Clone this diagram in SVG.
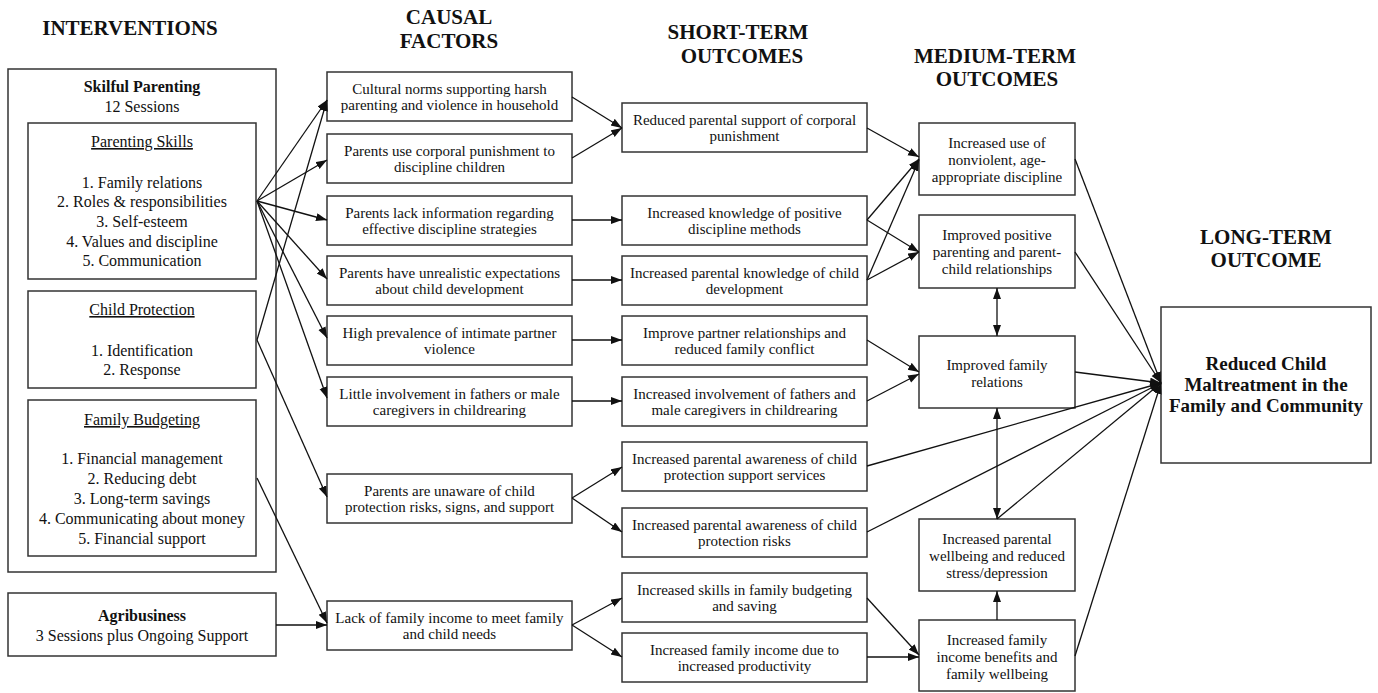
<svg xmlns="http://www.w3.org/2000/svg" width="1378" height="693" viewBox="0 0 1378 693">
<style>
.bx{fill:#fff;stroke:#333;stroke-width:1.5}
.t{font-family:"Liberation Serif","Times New Roman",serif;font-size:15px;fill:#111;text-anchor:middle}
.l{font-family:"Liberation Serif","Times New Roman",serif;font-size:16px;fill:#111;text-anchor:middle}
.b{font-weight:bold}
.u{text-decoration:underline}
.h{font-family:"Liberation Serif","Times New Roman",serif;font-size:21px;font-weight:bold;fill:#111;text-anchor:middle}
.lt{font-family:"Liberation Serif","Times New Roman",serif;font-size:19px;font-weight:bold;fill:#111;text-anchor:middle}
.c{stroke:#111;stroke-width:1.3;fill:none;marker-end:url(#ah)}
.d{marker-start:url(#ah2)}
</style>
<defs>
<marker id="ah" markerUnits="userSpaceOnUse" markerWidth="12" markerHeight="9" refX="11" refY="4" orient="auto"><path d="M0,0 L11,4 L0,8 z" fill="#111"/></marker>
<marker id="ah2" markerUnits="userSpaceOnUse" markerWidth="12" markerHeight="9" refX="11" refY="4" orient="auto-start-reverse"><path d="M0,0 L11,4 L0,8 z" fill="#111"/></marker>
</defs>
<rect width="1378" height="693" fill="#fff"/>
<g id="titles">
<text class="h" x="130" y="35">INTERVENTIONS</text>
<text class="h" x="449" y="24">CAUSAL</text>
<text class="h" x="449" y="48">FACTORS</text>
<text class="h" x="738" y="39">SHORT-TERM</text>
<text class="h" x="742" y="63">OUTCOMES</text>
<text class="h" x="995" y="63">MEDIUM-TERM</text>
<text class="h" x="997" y="86">OUTCOMES</text>
<text class="h" x="1266" y="244">LONG-TERM</text>
<text class="h" x="1266" y="267">OUTCOME</text>
</g>
<g id="skilful-parenting">
<rect class="bx" x="8" y="69" width="268" height="503"/>
<text class="l b" x="142" y="92">Skilful Parenting</text>
<text class="l" x="142" y="112">12 Sessions</text>
</g>
<g id="parenting-skills">
<rect class="bx" x="28" y="123" width="228" height="156"/>
<text class="l u" x="142" y="147">Parenting Skills</text>
<text class="l" x="142" y="188">1. Family relations</text>
<text class="l" x="142" y="207">2. Roles &amp; responsibilities</text>
<text class="l" x="142" y="227">3. Self-esteem</text>
<text class="l" x="142" y="247">4. Values and discipline</text>
<text class="l" x="142" y="266">5. Communication</text>
</g>
<g id="child-protection">
<rect class="bx" x="28" y="291" width="228" height="97"/>
<text class="l u" x="142" y="315">Child Protection</text>
<text class="l" x="142" y="356">1. Identification</text>
<text class="l" x="142" y="375">2. Response</text>
</g>
<g id="family-budgeting">
<rect class="bx" x="28" y="400" width="228" height="156"/>
<text class="l u" x="142" y="425">Family Budgeting</text>
<text class="l" x="142" y="464">1. Financial management</text>
<text class="l" x="142" y="484">2. Reducing debt</text>
<text class="l" x="142" y="504">3. Long-term savings</text>
<text class="l" x="142" y="524">4. Communicating about money</text>
<text class="l" x="142" y="544">5. Financial support</text>
</g>
<g id="agribusiness">
<rect class="bx" x="8" y="593" width="268" height="63"/>
<text class="l b" x="142" y="621">Agribusiness</text>
<text class="l" x="142" y="641">3 Sessions plus Ongoing Support</text>
</g>
<g id="c1"><rect class="bx" x="327" y="72" width="245" height="49"/><text class="t" x="449.5" y="94">Cultural norms supporting harsh</text><text class="t" x="449.5" y="110">parenting and violence in household</text></g>
<g id="c2"><rect class="bx" x="327" y="134" width="245" height="49"/><text class="t" x="449.5" y="156">Parents use corporal punishment to</text><text class="t" x="449.5" y="172">discipline children</text></g>
<g id="c3"><rect class="bx" x="327" y="196" width="245" height="49"/><text class="t" x="449.5" y="218">Parents lack information regarding</text><text class="t" x="449.5" y="234">effective discipline strategies</text></g>
<g id="c4"><rect class="bx" x="327" y="256" width="245" height="49"/><text class="t" x="449.5" y="278">Parents have unrealistic expectations</text><text class="t" x="449.5" y="294">about child development</text></g>
<g id="c5"><rect class="bx" x="327" y="316" width="245" height="49"/><text class="t" x="449.5" y="338">High prevalence of intimate partner</text><text class="t" x="449.5" y="354">violence</text></g>
<g id="c6"><rect class="bx" x="327" y="377" width="245" height="49"/><text class="t" x="449.5" y="399">Little involvement in fathers or male</text><text class="t" x="449.5" y="415">caregivers in childrearing</text></g>
<g id="c7"><rect class="bx" x="327" y="474" width="245" height="49"/><text class="t" x="449.5" y="496">Parents are unaware of child</text><text class="t" x="449.5" y="512">protection risks, signs, and support</text></g>
<g id="c8"><rect class="bx" x="327" y="601" width="245" height="49"/><text class="t" x="449.5" y="623">Lack of family income to meet family</text><text class="t" x="449.5" y="639">and child needs</text></g>
<g id="s1"><rect class="bx" x="622" y="103" width="245" height="49"/><text class="t" x="744.5" y="125">Reduced parental support of corporal</text><text class="t" x="744.5" y="141">punishment</text></g>
<g id="s2"><rect class="bx" x="622" y="196" width="245" height="49"/><text class="t" x="744.5" y="218">Increased knowledge of positive</text><text class="t" x="744.5" y="234">discipline methods</text></g>
<g id="s3"><rect class="bx" x="622" y="256" width="245" height="49"/><text class="t" x="744.5" y="278">Increased parental knowledge of child</text><text class="t" x="744.5" y="294">development</text></g>
<g id="s4"><rect class="bx" x="622" y="316" width="245" height="49"/><text class="t" x="744.5" y="338">Improve partner relationships and</text><text class="t" x="744.5" y="354">reduced family conflict</text></g>
<g id="s5"><rect class="bx" x="622" y="377" width="245" height="49"/><text class="t" x="744.5" y="399">Increased involvement of fathers and</text><text class="t" x="744.5" y="415">male caregivers in childrearing</text></g>
<g id="s6"><rect class="bx" x="622" y="442" width="245" height="49"/><text class="t" x="744.5" y="464">Increased parental awareness of child</text><text class="t" x="744.5" y="480">protection support services</text></g>
<g id="s7"><rect class="bx" x="622" y="508" width="245" height="49"/><text class="t" x="744.5" y="530">Increased parental awareness of child</text><text class="t" x="744.5" y="546">protection risks</text></g>
<g id="s8"><rect class="bx" x="622" y="573" width="245" height="49"/><text class="t" x="744.5" y="595">Increased skills in family budgeting</text><text class="t" x="744.5" y="611">and saving</text></g>
<g id="s9"><rect class="bx" x="622" y="633" width="245" height="49"/><text class="t" x="744.5" y="655">Increased family income due to</text><text class="t" x="744.5" y="671">increased productivity</text></g>
<g id="m1"><rect class="bx" x="919" y="123" width="156" height="72"/><text class="t" x="997" y="148">Increased use of</text><text class="t" x="997" y="165">nonviolent, age-</text><text class="t" x="997" y="182">appropriate discipline</text></g>
<g id="m2"><rect class="bx" x="919" y="215" width="156" height="73"/><text class="t" x="997" y="240">Improved positive</text><text class="t" x="997" y="257">parenting and parent-</text><text class="t" x="997" y="274">child relationships</text></g>
<g id="m3"><rect class="bx" x="919" y="336" width="156" height="72"/><text class="t" x="997" y="370">Improved family</text><text class="t" x="997" y="387">relations</text></g>
<g id="m4"><rect class="bx" x="919" y="519" width="156" height="72"/><text class="t" x="997" y="544">Increased parental</text><text class="t" x="997" y="561">wellbeing and reduced</text><text class="t" x="997" y="578">stress/depression</text></g>
<g id="m5"><rect class="bx" x="919" y="620" width="156" height="71"/><text class="t" x="997" y="645">Increased family</text><text class="t" x="997" y="662">income benefits and</text><text class="t" x="997" y="679">family wellbeing</text></g>
<g id="lt"><rect class="bx" x="1161" y="307" width="210" height="156"/><text class="lt" x="1266" y="370">Reduced Child</text><text class="lt" x="1266" y="391">Maltreatment in the</text><text class="lt" x="1266" y="412">Family and Community</text></g>
<g id="connectors">
<line class="c" x1="257" y1="201" x2="327" y2="100"/>
<line class="c" x1="257" y1="201" x2="327" y2="160"/>
<line class="c" x1="257" y1="201" x2="327" y2="220"/>
<line class="c" x1="257" y1="201" x2="327" y2="279"/>
<line class="c" x1="257" y1="201" x2="327" y2="338"/>
<line class="c" x1="257" y1="201" x2="327" y2="398"/>
<line class="c" x1="257" y1="340" x2="327" y2="100"/>
<line class="c" x1="257" y1="340" x2="327" y2="497"/>
<line class="c" x1="257" y1="478" x2="327" y2="623"/>
<line class="c" x1="276" y1="625" x2="327" y2="625"/>
<line class="c" x1="572" y1="97" x2="622" y2="128"/>
<line class="c" x1="572" y1="158" x2="622" y2="128"/>
<line class="c" x1="572" y1="220" x2="622" y2="220"/>
<line class="c" x1="572" y1="280" x2="622" y2="280"/>
<line class="c" x1="572" y1="340" x2="622" y2="340"/>
<line class="c" x1="572" y1="401" x2="622" y2="401"/>
<line class="c" x1="572" y1="498" x2="622" y2="467"/>
<line class="c" x1="572" y1="498" x2="622" y2="532"/>
<line class="c" x1="572" y1="625" x2="622" y2="598"/>
<line class="c" x1="572" y1="625" x2="622" y2="657"/>
<line class="c" x1="867" y1="128" x2="919" y2="157"/>
<line class="c" x1="867" y1="220" x2="919" y2="159"/>
<line class="c" x1="867" y1="220" x2="919" y2="252"/>
<line class="c" x1="867" y1="280" x2="919" y2="160"/>
<line class="c" x1="867" y1="280" x2="919" y2="252"/>
<line class="c" x1="867" y1="340" x2="919" y2="372"/>
<line class="c" x1="867" y1="401" x2="919" y2="374"/>
<line class="c" x1="867" y1="466" x2="1161" y2="383"/>
<line class="c" x1="867" y1="532" x2="1161" y2="383"/>
<line class="c" x1="867" y1="598" x2="919" y2="655"/>
<line class="c" x1="867" y1="657" x2="919" y2="657"/>
<line class="c" x1="1075" y1="159" x2="1161" y2="383"/>
<line class="c" x1="1075" y1="252" x2="1161" y2="383"/>
<line class="c" x1="1075" y1="372" x2="1161" y2="383"/>
<line class="c" x1="997" y1="519" x2="1161" y2="383"/>
<line class="c" x1="1075" y1="656" x2="1161" y2="383"/>
<line class="c d" x1="997" y1="288" x2="997" y2="336"/>
<line class="c d" x1="997" y1="408" x2="997" y2="519"/>
<line class="c" x1="997" y1="620" x2="997" y2="591"/>
</g>
</svg>
